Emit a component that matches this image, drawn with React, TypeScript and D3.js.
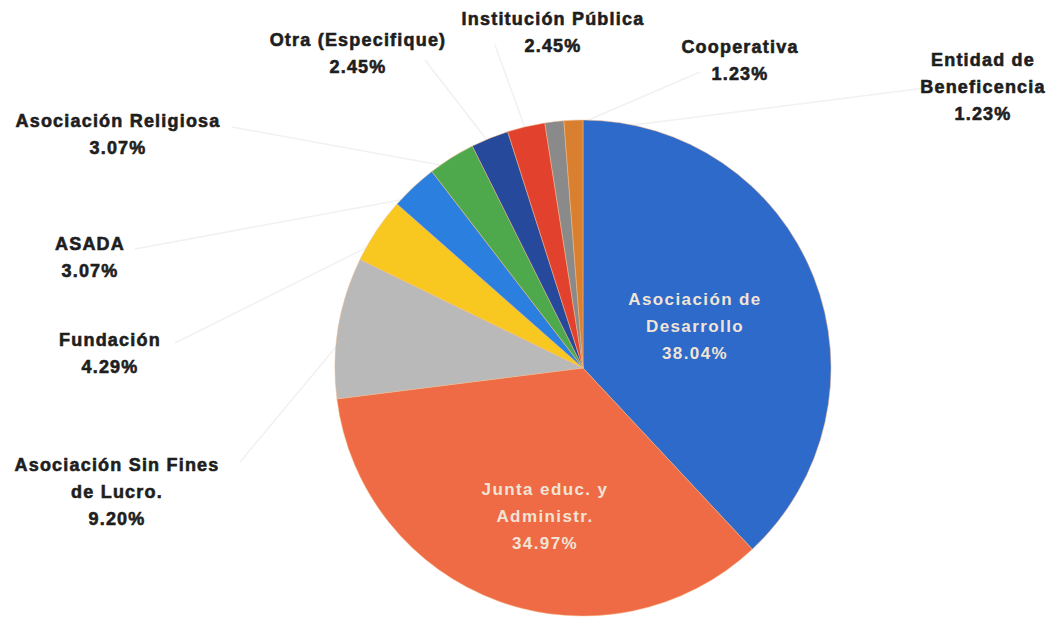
import React from "react";
import * as d3 from "d3";

const categories = [
  "Asociación de Desarrollo",
  "Junta educ. y Administr.",
  "Asociación Sin Fines de Lucro.",
  "Fundación",
  "ASADA",
  "Asociación Religiosa",
  "Otra (Especifique)",
  "Institución Pública",
  "Cooperativa",
  "Entidad de Beneficencia",
];
const values = [38.04, 34.97, 9.2, 4.29, 3.07, 3.07, 2.45, 2.45, 1.23, 1.23];
const colors = [
  "#2d6ac9",
  "#ee6b45",
  "#b9b9b9",
  "#f8c821",
  "#2b80df",
  "#4ea84c",
  "#27499c",
  "#e2412d",
  "#8a8a8a",
  "#d8802f",
];
const labelLines = [
  ["Asociación de", "Desarrollo", "38.04%"],
  ["Junta educ. y", "Administr.", "34.97%"],
  ["Asociación Sin Fines", "de Lucro.", "9.20%"],
  ["Fundación", "4.29%"],
  ["ASADA", "3.07%"],
  ["Asociación Religiosa", "3.07%"],
  ["Otra (Especifique)", "2.45%"],
  ["Institución Pública", "2.45%"],
  ["Cooperativa", "1.23%"],
  ["Entidad de", "Beneficencia", "1.23%"],
];
const labelInside = [true, true, false, false, false, false, false, false, false, false];
const labelPos: [number, number][] = [
  [695, 305],
  [545, 495],
  [117, 471],
  [110, 346],
  [90, 250],
  [118, 127],
  [358, 46],
  [553, 25],
  [740, 53],
  [983, 66],
];
const leaderStart: ([number, number] | null)[] = [
  null,
  null,
  [240, 462],
  [175, 343],
  [135, 249],
  [232, 127],
  [425, 60],
  [495, 45],
  [700, 72],
  [925, 88],
];

export default function App() {
  const W = 1054;
  const H = 622;
  const cx = 583;
  const cy = 368;
  const r = 248;
  const pie = d3.pie<number>().sort(null).value((d) => d);
  const arcs = pie(values);
  const arc = d3.arc<d3.PieArcDatum<number>>().innerRadius(0).outerRadius(r);
  const font = "'Liberation Sans', Arial, sans-serif";
  const lh = 27;
  return (
    <svg
      width={W}
      height={H}
      style={{ position: "absolute", left: 0, top: 0, background: "#fff" }}
    >
      <g>
        {arcs.map((a, i) => {
          const s = leaderStart[i];
          if (!s) return null;
          const mid = (a.startAngle + a.endAngle) / 2;
          const ex = cx + Math.sin(mid) * (r * 0.95);
          const ey = cy - Math.cos(mid) * (r * 0.95);
          return (
            <line
              key={"l" + i}
              x1={s[0]}
              y1={s[1]}
              x2={ex}
              y2={ey}
              stroke="#f1f1f1"
              strokeWidth={1.5}
            />
          );
        })}
      </g>
      <g transform={`translate(${cx},${cy})`}>
        {arcs.map((a, i) => (
          <path
            key={i}
            d={arc(a) || ""}
            fill={colors[i]}
            stroke="#f4b98a"
            strokeOpacity={0.5}
            strokeWidth={1}
          />
        ))}
      </g>
      {labelLines.map((lines, i) => (
        <text
          key={"t" + i}
          x={labelPos[i][0]}
          y={labelPos[i][1]}
          textAnchor="middle"
          fontFamily={font}
          fontWeight="bold"
          fontSize={labelInside[i] ? 17 : 18}
          letterSpacing={labelInside[i] ? 1.4 : 1.2}
          fill={labelInside[i] ? "#f1e4d6" : "#1e1e1e"}
          stroke={labelInside[i] ? "none" : "#1e1e1e"}
          strokeWidth={0.6}
        >
          {lines.map((ln, j) => (
            <tspan key={j} x={labelPos[i][0]} dy={j === 0 ? 0 : lh}>
              {ln}
            </tspan>
          ))}
        </text>
      ))}
    </svg>
  );
}
